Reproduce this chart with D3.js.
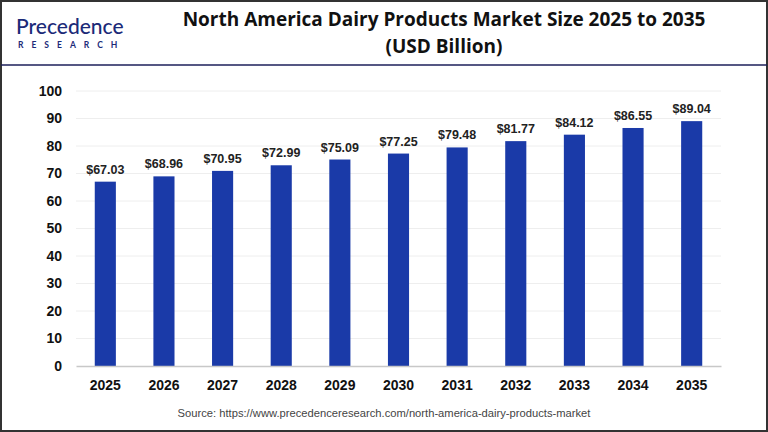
<!DOCTYPE html>
<html>
<head>
<meta charset="utf-8">
<script src="https://cdn.jsdelivr.net/npm/d3@7"></script>
<style>
  html, body { margin: 0; padding: 0; background: #fff; }
  svg { display: block; }
</style>
</head>
<body>
<svg id="chart" width="768" height="432"></svg>
<script>
const years = ['2025', '2026', '2027', '2028', '2029', '2030', '2031', '2032', '2033', '2034', '2035'];
const marketSize = [67.03, 68.96, 70.95, 72.99, 75.09, 77.25, 79.48, 81.77, 84.12, 86.55, 89.04];
const yTicks = [0, 10, 20, 30, 40, 50, 60, 70, 80, 90, 100];

const svg = d3.select('#chart');
const W = 768, H = 432;
const plot = {left: 76, right: 721, top: 91, bottom: 366};

// frame + header
svg.append('rect')
  .attr('x', 1).attr('y', 1).attr('width', W - 2).attr('height', H - 2)
  .attr('fill', 'none').attr('stroke', '#333').attr('stroke-width', 2);
svg.append('line')
  .attr('x1', 1).attr('x2', W - 1).attr('y1', 65).attr('y2', 65)
  .attr('stroke', '#1c1f5a').attr('stroke-width', 1.5);

// logo
const logo = svg.append('g');
logo.append('text')
  .attr('x', 16).attr('y', 34)
  .attr('font-family', 'Lato, sans-serif').attr('font-size', 21).attr('font-weight', 500)
  .attr('fill', '#1b2a78')
  .text('Precedence');
logo.append('text')
  .attr('x', 18).attr('y', 48)
  .attr('font-family', 'Lato, sans-serif').attr('font-size', 8.5).attr('font-weight', 700)
  .attr('fill', '#1b2a78').attr('letter-spacing', 8)
  .text('RESEARCH');

// title
const title = svg.append('text')
  .attr('text-anchor', 'middle')
  .attr('font-family', '"Open Sans", sans-serif').attr('font-weight', 700)
  .attr('font-size', 19).attr('fill', '#111');
title.append('tspan').attr('x', 444).attr('y', 26)
  .text('North America Dairy Products Market Size 2025 to 2035');
title.append('tspan').attr('x', 444).attr('y', 53)
  .text('(USD Billion)');

const x = d3.scaleBand()
  .domain(years)
  .range([plot.left, plot.right])
  .paddingInner(0.64)
  .paddingOuter(0.32);

const y = d3.scaleLinear()
  .domain([0, 100])
  .range([plot.bottom, plot.top]);

// grid
svg.append('g')
  .selectAll('line')
  .data(yTicks.filter(d => d > 0))
  .join('line')
    .attr('x1', plot.left).attr('x2', plot.right)
    .attr('y1', d => y(d)).attr('y2', d => y(d))
    .attr('stroke', '#eeeeee').attr('stroke-width', 1);

// y axis
const yAxis = svg.append('g')
  .attr('transform', `translate(${plot.left - 14},0)`)
  .call(d3.axisLeft(y).tickValues(yTicks).tickSize(0).tickPadding(0));
yAxis.select('.domain').remove();
yAxis.selectAll('text')
  .attr('font-family', '"Liberation Sans", Arial, sans-serif')
  .attr('font-size', 14).attr('font-weight', 700).attr('fill', '#111');

// bars
const data = years.map((yr, i) => ({year: yr, value: marketSize[i]}));
svg.append('g')
  .selectAll('rect')
  .data(data)
  .join('rect')
    .attr('x', d => x(d.year))
    .attr('y', d => y(d.value))
    .attr('width', x.bandwidth())
    .attr('height', d => y(0) - y(d.value))
    .attr('fill', '#1a3aa8');

// value labels
svg.append('g')
  .selectAll('text')
  .data(data)
  .join('text')
    .attr('x', d => x(d.year) + x.bandwidth() / 2)
    .attr('y', d => y(d.value) - 8)
    .attr('text-anchor', 'middle')
    .attr('font-family', '"Liberation Sans", Arial, sans-serif')
    .attr('font-size', 12.5).attr('font-weight', 700).attr('fill', '#222')
    .text(d => '$' + d.value.toFixed(2));

// x axis
const xAxis = svg.append('g')
  .attr('transform', `translate(0,${plot.bottom})`)
  .call(d3.axisBottom(x).tickSize(0).tickPadding(14));
xAxis.select('.domain')
  .attr('stroke', '#c8c8c8').attr('stroke-width', 1.5);
xAxis.selectAll('text')
  .attr('font-family', '"Liberation Sans", Arial, sans-serif')
  .attr('font-size', 14).attr('font-weight', 700).attr('fill', '#111');

// source
svg.append('text')
  .attr('x', 384).attr('y', 417)
  .attr('text-anchor', 'middle')
  .attr('font-family', '"Liberation Sans", Arial, sans-serif')
  .attr('font-size', 11.2).attr('fill', '#444')
  .text('Source: https://www.precedenceresearch.com/north-america-dairy-products-market');
</script>
</body>
</html>
